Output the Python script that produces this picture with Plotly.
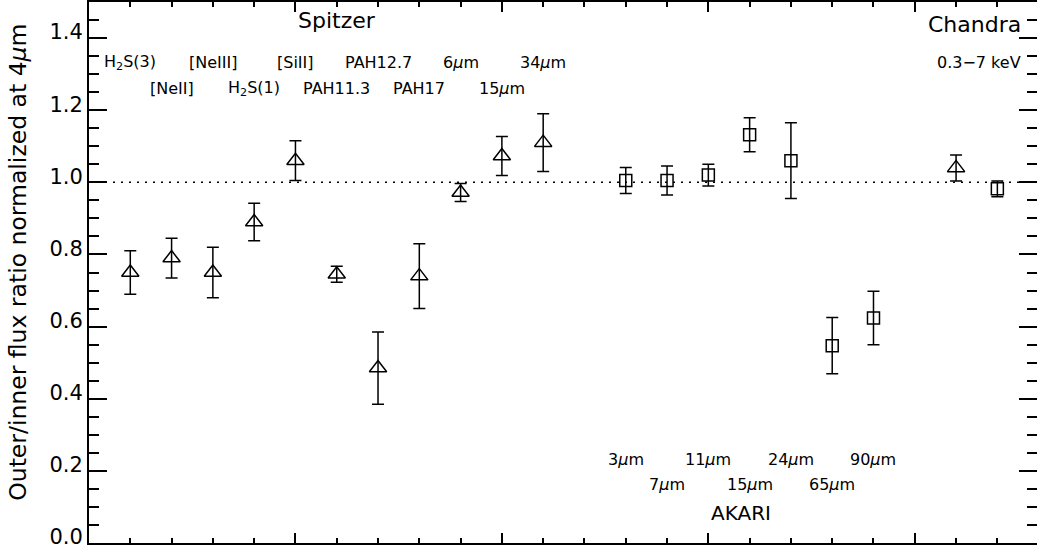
import plotly.graph_objects as go

# ---- data ----
spitzer_x = [1, 2, 3, 4, 5, 6, 7, 8, 9, 10, 11]
spitzer_labels = ["H<sub>2</sub>S(3)", "[NeII]", "[NeIII]", "H<sub>2</sub>S(1)", "[SiII]",
                  "PAH11.3", "PAH12.7", "PAH17", "6<i>μ</i>m", "15<i>μ</i>m", "34<i>μ</i>m"]
spitzer_y = [0.75, 0.79, 0.75, 0.89, 1.06, 0.745, 0.485, 0.74, 0.972, 1.073, 1.11]
spitzer_err = [0.06, 0.055, 0.07, 0.052, 0.055, 0.022, 0.10, 0.09, 0.025, 0.054, 0.08]

akari_x = [13, 14, 15, 16, 17, 18, 19]
akari_labels = ["3<i>μ</i>m", "7<i>μ</i>m", "11<i>μ</i>m", "15<i>μ</i>m", "24<i>μ</i>m",
                "65<i>μ</i>m", "90<i>μ</i>m"]
akari_y = [1.005, 1.005, 1.02, 1.132, 1.06, 0.547, 0.624]
akari_err = [0.036, 0.04, 0.03, 0.047, 0.105, 0.078, 0.074]

chandra_tri_x = [21]
chandra_tri_y = [1.04]
chandra_tri_err = [0.036]
chandra_sq_x = [22]
chandra_sq_y = [0.982]
chandra_sq_err = [0.022]

FONT = "DejaVu Sans"

fig = go.Figure()

def add(xs, ys, errs, symbol, size):
    fig.add_trace(go.Scatter(
        x=xs, y=ys, mode="markers",
        marker=dict(symbol=symbol, size=size, color="black",
                    line=dict(color="black", width=1.5)),
        error_y=dict(type="data", array=errs, visible=True, color="black",
                     thickness=1.5, width=6),
        showlegend=False, hoverinfo="skip"))

add(spitzer_x, spitzer_y, spitzer_err, "triangle-up-open", 15)
add(akari_x, akari_y, akari_err, "square-open", 12)
add(chandra_tri_x, chandra_tri_y, chandra_tri_err, "triangle-up-open", 15)
add(chandra_sq_x, chandra_sq_y, chandra_sq_err, "square-open", 12)

# dotted reference line at 1.0
fig.add_shape(type="line", xref="x", yref="y", x0=0, x1=23, y0=1.0, y1=1.0,
              line=dict(color="black", width=1.5, dash="2px,6px"), layer="below")

ann = []
# Spitzer labels (two staggered rows)
for i, (x, lab) in enumerate(zip(spitzer_x, spitzer_labels)):
    ann.append(dict(x=x, y=1.333 if i % 2 == 0 else 1.261, text=lab,
                    font=dict(size=16)))
# AKARI labels
for i, (x, lab) in enumerate(zip(akari_x, akari_labels)):
    ann.append(dict(x=x, y=0.231 if i % 2 == 0 else 0.161, text=lab,
                    font=dict(size=16)))
ann.append(dict(x=6.0, y=1.45, text="Spitzer", font=dict(size=22)))
ann.append(dict(x=15.8, y=0.082, text="AKARI", font=dict(size=20)))
ann.append(dict(x=22.62, y=1.439, text="Chandra", xanchor="right", font=dict(size=22)))
ann.append(dict(x=22.62, y=1.333, text="0.3−7 keV", xanchor="right", font=dict(size=16)))

for a in ann:
    a.setdefault("xanchor", "center")
    a.update(xref="x", yref="y", showarrow=False, yanchor="middle")
    a["font"].update(family=FONT, color="black")

# y-axis title as rotated text placed left of the tick labels
ann.append(dict(xref="paper", yref="paper", x=0, y=0.518, xshift=-71,
                xanchor="center", yanchor="middle", showarrow=False, textangle=-90,
                text="Outer/inner flux ratio normalized at 4<i>μ</i>m",
                font=dict(family=FONT, size=23.5, color="black")))

fig.update_layout(
    width=1037, height=548,
    margin=dict(l=89, r=0, t=2, b=5, autoexpand=False),
    paper_bgcolor="white", plot_bgcolor="white",
    font=dict(family=FONT, color="black"),
    annotations=ann,
    xaxis=dict(range=[0, 22.96], showgrid=False, zeroline=False, automargin=False,
               showline=True, linecolor="black", linewidth=2, mirror="ticks",
               ticks="inside", tick0=0, dtick=5, ticklen=10, tickwidth=1.5,
               tickcolor="black", showticklabels=False,
               minor=dict(ticks="inside", dtick=1, ticklen=5, tickwidth=1.5,
                          tickcolor="black", showgrid=False)),
    yaxis=dict(range=[0, 1.5], showgrid=False, zeroline=False, automargin=False,
               showline=True, linecolor="black", linewidth=2, mirror="ticks",
               ticks="inside", tick0=0, dtick=0.2, ticklen=18, tickwidth=1.5,
               tickcolor="black", tickformat=".1f", ticklabeloverflow="allow",
               ticklabelshift=-6,
               tickfont=dict(family=FONT, size=21, color="black"),
               minor=dict(ticks="inside", dtick=0.05, ticklen=10, tickwidth=1.5,
                          tickcolor="black", showgrid=False)),
)

fig.write_html("out.html")
